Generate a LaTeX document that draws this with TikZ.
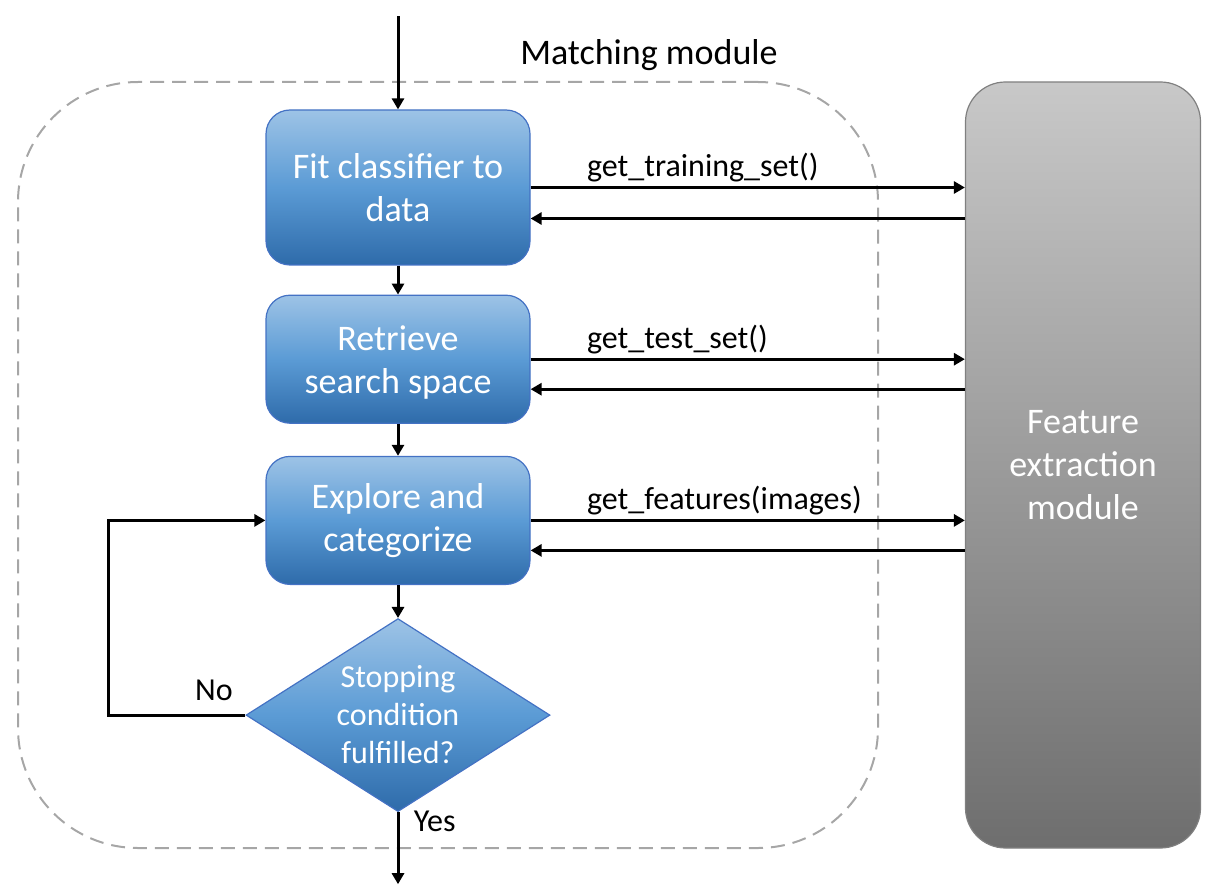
\documentclass[tikz,border=0pt]{standalone}
\usepackage{fontspec}
\setmainfont{Carlito}
\usepackage{tikz}
\usetikzlibrary{arrows.meta,positioning,shapes.geometric}
\definecolor{blauoben}{HTML}{9DC3E6}
\definecolor{blaumitte}{HTML}{5B9BD5}
\definecolor{blauunten}{HTML}{2E6BAA}
\definecolor{blaurand}{HTML}{4472C4}
\definecolor{grauoben}{HTML}{C8C8C8}
\definecolor{grauunten}{HTML}{6E6E6E}
\definecolor{graurand}{HTML}{808080}
\definecolor{strich}{HTML}{A6A6A6}
\tikzset{
    %Define standard arrow tip
    >={Triangle[width=12pt,length=11pt]},
    x=1pt, y=1pt,
    %Define style for process boxes
    schritt/.style={
           rectangle,
           rounded corners=24pt,
           draw=blaurand, line width=1.2pt,
           top color=blauoben, bottom color=blauunten, middle color=blaumitte,
           minimum width=264pt,
           minimum height=128pt,
           text=white, align=center,
           font=\fontsize{36}{43}\selectfont},
    % Define style for decision
    raute/.style={
           diamond, aspect=1.575, inner sep=0pt,
           draw=blaurand, line width=1.2pt,
           top color=blauoben, bottom color=blauunten, middle color=blaumitte,
           minimum width=304pt, minimum height=193pt,
           text=white, align=center,
           font=\fontsize{32}{38}\selectfont},
    % Define style for the outer module
    modul/.style={
           rectangle,
           rounded corners=40pt,
           draw=graurand, line width=1.2pt,
           top color=grauoben, bottom color=grauunten,
           minimum width=235pt, minimum height=766pt,
           text=white, align=center,
           font=\fontsize{36}{43}\selectfont},
    % Define dashed frame
    rahmen/.style={
           rectangle,
           rounded corners=120pt,
           draw=strich, line width=2pt,
           dash pattern=on 14pt off 8pt,
           minimum width=860pt, minimum height=766pt},
    % Define arrow style
    pil/.style={
	   ->,
	   line width=3pt},
    % Define label style
    beschrift/.style={
           anchor=base west, inner sep=0pt,
           font=\fontsize{32}{38}\selectfont},
    klein/.style={font=\fontsize{32}{38}\selectfont}
}

\begin{document}
\begin{tikzpicture}
  \useasboundingbox (0,0) rectangle (1226,-893);
  \node[rahmen] (match) at (448,-465) {};
  \node[font=\fontsize{36}{43}\selectfont] (titel) at (649,-55) {Matching module};
  \node[schritt, minimum height=155pt] (fit) at (398,-187.5) {Fit classifier to\\data};
  \node[schritt, text depth=0pt] (retrieve) [below=29pt of fit] {Retrieve\\search space};
  \node[schritt] (explore) [below=32pt of retrieve] {Explore and\\categorize};
  \node[raute] (stop) [below=33pt of explore] {Stopping\\condition\\fulfilled?};
  \node[modul] (feat) at (1083,-465) {Feature\\extraction\\module};
  \coordinate (start) at ([yshift=93pt]fit.north);
  \coordinate (ende) at ([yshift=-72pt]stop.south);
  \draw[pil] (start) -- (fit);
  \draw[pil] (fit) -- (retrieve);
  \draw[pil] (retrieve) -- (explore);
  \draw[pil] (explore) -- (stop);
  \draw[pil] (stop) -- (ende) node[klein, pos=0.13, right=11pt] {Yes};
  \draw[pil] (stop.west) -- ++(-137,0) node[klein, pos=0.23, above=10pt] {No} |- (explore.west);
  \draw[pil] (fit.east) -- (fit.east -| feat.west)
    node[beschrift, pos=0, xshift=55pt, yshift=11pt] {get\_training\_set()};
  \draw[pil] ([yshift=-31pt]fit.east -| feat.west) -- ([yshift=-31pt]fit.east);
  \draw[pil] (retrieve.east) -- (retrieve.east -| feat.west)
    node[beschrift, pos=0, xshift=55pt, yshift=11pt] {get\_test\_set()};
  \draw[pil] ([yshift=-30pt]retrieve.east -| feat.west) -- ([yshift=-30pt]retrieve.east);
  \draw[pil] (explore.east) -- (explore.east -| feat.west)
    node[beschrift, pos=0, xshift=55pt, yshift=11pt] {get\_features(images)};
  \draw[pil] ([yshift=-30pt]explore.east -| feat.west) -- ([yshift=-30pt]explore.east);
\end{tikzpicture}
\end{document}
